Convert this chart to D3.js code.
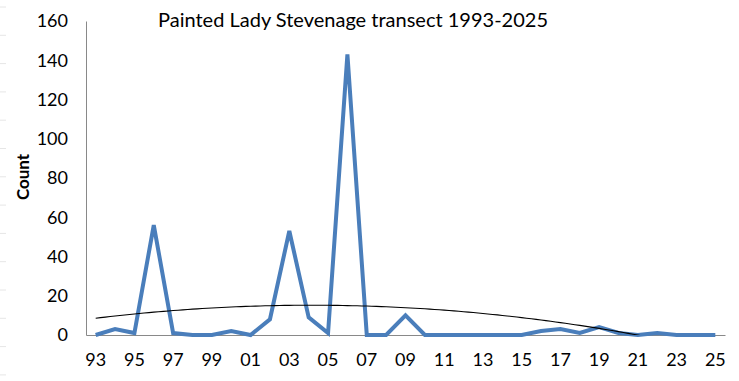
<!DOCTYPE html>
<html><head><meta charset="utf-8">
<script src="https://cdn.jsdelivr.net/npm/d3@7"></script>
<style>
body{margin:0;background:#fff;}
svg{display:block;font-family:Lato,"Open Sans",sans-serif;}
</style></head>
<body><div id="chart"></div>
<script>
const years = ["93","94","95","96","97","98","99","00","01","02","03","04","05","06","07","08","09","10","11","12","13","14","15","16","17","18","19","20","21","22","23","24","25"];
const counts = [0,3,1,56,1,0,0,2,0,8,53,9,1,143,0,0,10,0,0,0,0,0,0,2,3,1,4,1,0,1,0,0,0];
const yTicks = [0,20,40,60,80,100,120,140,160];
const xLabels = years.filter((d,i)=>i%2===0);
const title = "Painted Lady Stevenage transect 1993-2025";
const yTitle = "Count";

const W=739,H=381;
const m={left:86,right:14,top:21,bottom:46};
const svg=d3.select("#chart").append("svg").attr("width",W).attr("height",H);

// faint left-edge marks
svg.append("g").selectAll("line").data(d3.range(7,381,28.3)).join("line")
  .attr("x1",0).attr("x2",6).attr("y1",d=>d).attr("y2",d=>d)
  .attr("stroke","#e6e6e6").attr("stroke-width",1);

const x=d3.scaleBand().domain(years).range([m.left,W-m.right]);
const y=d3.scaleLinear().domain([0,160]).range([H-m.bottom,m.top]);
const cx=d=>x(d)+x.bandwidth()/2;

// axes
const yAxis=d3.axisLeft(y).tickValues(yTicks).tickSize(0).tickPadding(18);
const gy=svg.append("g").attr("transform",`translate(${m.left},0)`).call(yAxis);
gy.select(".domain").attr("stroke","#898989");
gy.selectAll("text").attr("font-size","18px").attr("fill","#000").attr("font-family","Lato,'Open Sans',sans-serif");

const xAxis=d3.axisBottom(x).tickValues(xLabels).tickSize(0).tickPadding(18);
const gx=svg.append("g").attr("transform",`translate(0,${H-m.bottom})`).call(xAxis);
gx.select(".domain").attr("stroke","#898989");
gx.selectAll("text").attr("font-size","18px").attr("fill","#000").attr("font-family","Lato,'Open Sans',sans-serif");

// clip
svg.append("clipPath").attr("id","clip").append("rect")
  .attr("x",m.left).attr("y",m.top-10).attr("width",W-m.right-m.left).attr("height",H-m.bottom-m.top+10);

// data line
svg.append("path").datum(counts)
  .attr("fill","none").attr("stroke","#4a7ebb").attr("stroke-width",4).attr("stroke-linejoin","miter")
  .attr("d",d3.line().x((d,i)=>cx(years[i])).y(d=>y(d)));

// quadratic trendline (least squares, like Excel)
const n=counts.length;
const idx=d3.range(n);
const S=k=>d3.sum(idx,i=>Math.pow(i+1,k));
const T=k=>d3.sum(idx,i=>Math.pow(i+1,k)*counts[i]);
const A=[[n,S(1),S(2)],[S(1),S(2),S(3)],[S(2),S(3),S(4)]];
const B=[T(0),T(1),T(2)];
function solve(A,B){
  const M=A.map((r,i)=>r.concat([B[i]]));
  for(let c=0;c<3;c++){
    let p=c;for(let r=c+1;r<3;r++) if(Math.abs(M[r][c])>Math.abs(M[p][c])) p=r;
    [M[c],M[p]]=[M[p],M[c]];
    for(let r=0;r<3;r++){ if(r===c) continue; const f=M[r][c]/M[c][c]; for(let k=c;k<4;k++) M[r][k]-=f*M[c][k]; }
  }
  return M.map((r,i)=>r[3]/r[i]);
}
const coef=solve(A,B);
const trendX=d3.range(0,n-1+0.001,0.25);
const trend=trendX.map(t=>{const u=t+1;return [t,coef[0]+coef[1]*u+coef[2]*u*u];});
const xi=t=>cx(years[0])+t*x.step();
svg.append("path").datum(trend).attr("clip-path","url(#clip)")
  .attr("fill","none").attr("stroke","#000").attr("stroke-width",1.1)
  .attr("d",d3.line().x(d=>xi(d[0])).y(d=>y(d[1])));

// title
svg.append("text").attr("x",353).attr("y",27).attr("text-anchor","middle")
  .attr("font-size","20px").attr("fill","#000").text(title);

// y title
svg.append("text").attr("transform","translate(29,177) rotate(-90)").attr("text-anchor","middle")
  .attr("font-size","17px").attr("font-weight","bold").attr("fill","#000").text(yTitle);
</script>
</body></html>
